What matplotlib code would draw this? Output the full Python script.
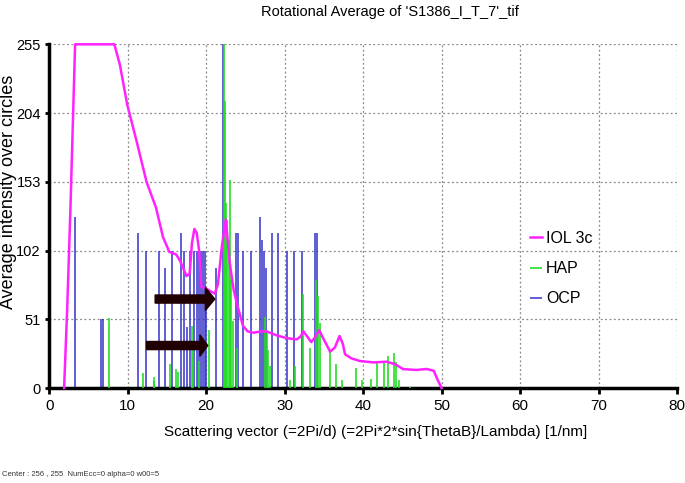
import matplotlib
matplotlib.use("Agg")
import matplotlib.pyplot as plt
from matplotlib.patches import FancyArrow

plt.rcParams['font.family'] = ['Liberation Sans', 'DejaVu Sans']

# ---- data ----
iol_x = [1.9, 2.3, 2.7, 3.3, 8.3, 9.0, 9.95, 11.1, 12.4, 13.6, 14.5, 15.3, 16.2, 16.7, 17.5, 17.9,
         18.2, 18.5, 18.8, 19.1, 19.4, 20.2, 21.1, 21.5, 22.0, 22.5, 23.0, 23.5, 23.9, 24.7, 25.3,
         26.0, 27.0, 27.7, 29.0, 30.3, 31.5, 32.0, 32.4, 32.9, 33.4, 33.9, 34.4, 34.9, 35.8, 36.4,
         37.0, 37.4, 37.7, 38.5, 39.6, 41.3, 43.0, 44.1, 45.1, 46.8, 48.1, 49.0, 49.5, 50.0]
iol_y = [0, 60, 132, 255, 255, 240, 210, 184, 153, 134, 112, 101, 99, 94, 83, 85,
         108, 118, 115, 102, 75, 73, 70, 77, 105, 125, 93, 73, 63, 46, 42,
         41, 42, 42, 39, 37, 36, 38, 42, 38, 34, 38, 43, 37, 27, 30,
         38.6, 33, 25, 22, 20, 19, 19.5, 17.6, 14, 13.4, 14.1, 12.8, 6, 0]

ocp_x = [3.3, 6.6, 6.8, 11.35, 12.3, 14.0, 14.7, 15.7, 16.8, 17.2, 17.6, 17.9, 18.5, 18.8, 19.1,
         19.4, 19.6, 19.8, 20.0, 21.25, 22.15, 23.75, 24.05, 24.65, 25.7, 26.9, 27.1, 27.4, 27.6,
         28.45, 29.2, 30.25, 31.2, 32.2, 33.9, 34.1]
ocp_y = [127, 51, 51, 115, 102, 102, 89, 102, 115, 102, 45, 102, 102, 102, 102,
         102, 102, 102, 64, 89, 255, 115, 115, 102, 102, 127, 110, 102, 89,
         115, 115, 102, 102, 102, 115, 115]

hap_x = [7.6, 11.9, 13.3, 13.4, 15.4, 16.2, 16.35, 18.2, 18.3, 19.1, 20.3, 22.25, 22.4, 22.55,
         22.7, 22.85, 23.0, 23.2, 23.4, 23.9, 27.5, 27.7, 27.9, 28.1, 30.7, 31.3, 32.4, 33.2,
         34.0, 34.3, 34.5, 35.8, 36.6, 37.3, 39.1, 39.8, 41.0, 41.8, 42.6, 43.2, 44.0, 44.2,
         44.6, 46.0]
hap_y = [52, 11, 8, 5, 18, 14, 12, 46, 30, 20, 43, 255, 213, 137,
         125, 110, 154, 80, 50, 30, 53, 41, 28, 16, 6, 16, 70, 30,
         80, 68, 48, 27, 18, 6, 15, 6, 7, 20, 19, 24, 26, 19,
         6, 1]

x_ticks = [0, 10, 20, 30, 40, 50, 60, 70, 80]
y_ticks = [0, 51, 102, 153, 204, 255]

W, H = 685, 483
fig = plt.figure(figsize=(W / 100, H / 100), dpi=100)
ax = fig.add_axes([49.2 / W, 1 - 388 / H, (677 - 49.2) / W, (388 - 44.3) / H])

ax.vlines(ocp_x, 0, ocp_y, colors='#3434c8', linewidth=1.3, alpha=0.85, label='OCP', zorder=2, clip_on=False)
ax.vlines(hap_x, 0, hap_y, colors='#22dd22', linewidth=1.3, alpha=0.9, label='HAP', zorder=3, clip_on=False)
ax.plot(iol_x, iol_y, color='#ff22ff', linewidth=1.8, label='IOL 3c', zorder=4, clip_on=False)

# arrows
ax.add_patch(FancyArrow(13.5, 66, 7.6, 0, width=6, head_width=17, head_length=1.2,
                        length_includes_head=True, color='#200000', zorder=5))
ax.add_patch(FancyArrow(12.4, 31.5, 7.8, 0, width=6, head_width=16, head_length=1.0,
                        length_includes_head=True, color='#200000', zorder=5))

ax.set_xlim(0, 80)
ax.set_ylim(0, 255)
ax.set_xticks(x_ticks)
ax.set_yticks(y_ticks)
ax.grid(True, color='#888888', linestyle=(0, (1.5, 2)), linewidth=0.9)
ax.set_axisbelow(True)
for s in ['top', 'right']:
    ax.spines[s].set_visible(False)
for s in ['left', 'bottom']:
    ax.spines[s].set_linewidth(2.5)
    ax.spines[s].set_color('black')
ax.tick_params(axis='x', labelsize=11, length=4, width=2, pad=4)
ax.tick_params(axis='y', labelsize=10.5, length=3, width=2, pad=3)

fig.text(376 / W, 1 - 432 / H, 'Scattering vector (=2Pi/d) (=2Pi*2*sin{ThetaB}/Lambda) [1/nm]',
         ha='center', va='center', fontsize=11)
fig.text(9 / W, 1 - 192 / H, 'Average intensity over circles', ha='center', va='center',
         rotation=90, fontsize=13)

handles, labels = ax.get_legend_handles_labels()
order = [2, 1, 0]
leg = ax.legend([handles[i] for i in order], [labels[i] for i in order], frameon=False,
                loc='upper left', bbox_to_anchor=((530 - 49.2) / 627.8, (388 - 231) / 343.7),
                borderaxespad=0, borderpad=0, fontsize=11.5,
                handlelength=0.75, handletextpad=0.25, labelspacing=0.95)

fig.text(390 / W, 1 - 12 / H, "Rotational Average of 'S1386_I_T_7'_tif", ha='center', va='center', fontsize=10.5)
fig.text(2 / W, 1 - 475 / H, "Center : 256 , 255  NumEcc=0 alpha=0 w00=5", ha='left', va='center', fontsize=5.5, color='#333333')

fig.savefig('out.png', dpi=100)
